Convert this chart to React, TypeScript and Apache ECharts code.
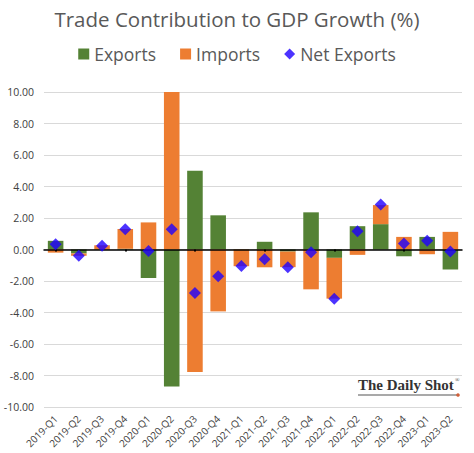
import React, { useEffect, useRef } from "react";
import * as echarts from "echarts";

const categories = [
  "2019-Q1", "2019-Q2", "2019-Q3", "2019-Q4",
  "2020-Q1", "2020-Q2", "2020-Q3", "2020-Q4",
  "2021-Q1", "2021-Q2", "2021-Q3", "2021-Q4",
  "2022-Q1", "2022-Q2", "2022-Q3", "2022-Q4",
  "2023-Q1", "2023-Q2",
];
const exportsVals = [0.55, -0.25, -0.03, 0.05, -1.81, -8.7, 5.0, 2.17, 0.02, 0.49, -0.13, 2.36, -0.53, 1.48, 1.61, -0.43, 0.8, -1.27];
const importsVals = [-0.2, -0.15, 0.27, 1.25, 1.72, 10.0, -7.77, -3.93, -1.06, -1.13, -0.99, -2.53, -2.59, -0.34, 1.21, 0.8, -0.3, 1.12];
const netExportsVals = [0.34, -0.4, 0.24, 1.29, -0.09, 1.29, -2.76, -1.7, -1.04, -0.62, -1.12, -0.17, -3.12, 1.16, 2.86, 0.38, 0.56, -0.13];
const yTicks = { min: -10, max: 10, interval: 2 };

const FONT = "'Open Sans', 'Noto Sans', sans-serif";

export default function App() {
  const ref = useRef<HTMLDivElement>(null);
  useEffect(() => {
    document.body.style.margin = "0";
    const chart = echarts.init(ref.current!, null, { renderer: "svg" });
    chart.setOption({
      animation: false,
      backgroundColor: "#ffffff",
      title: {
        text: "Trade Contribution to GDP Growth (%)",
        left: "center",
        top: 3,
        textStyle: { fontFamily: FONT, fontSize: 20.5, fontWeight: "normal", color: "#595959" },
      },
      legend: {
        top: 40,
        left: "center",
        itemWidth: 11,
        itemHeight: 11,
        itemGap: 24,
        textStyle: { fontFamily: FONT, fontSize: 17.5, color: "#595959" },
        data: [
          { name: "Exports", icon: "rect" },
          { name: "Imports", icon: "rect" },
          { name: "Net Exports", icon: "diamond" },
        ],
      },
      grid: { left: 44, right: 12, top: 92, bottom: 46 },
      xAxis: [
        {
          type: "category",
          data: categories,
          axisLine: { show: false, onZero: false },
          axisTick: { show: false },
          axisLabel: {
            rotate: 45,
            fontFamily: FONT,
            fontSize: 10,
            color: "#404040",
            margin: 10,
            interval: 0,
          },
        },
        {
          type: "category",
          data: categories,
          position: "bottom",
          axisLine: { show: true, onZero: true, lineStyle: { color: "#000000", width: 1.5 } },
          axisTick: { show: true, alignWithLabel: true, length: 2, lineStyle: { color: "#000", width: 2 } },
          axisLabel: { show: false },
          z: 5,
        },
      ],
      yAxis: {
        type: "value",
        min: yTicks.min,
        max: yTicks.max,
        interval: yTicks.interval,
        axisLine: { show: false },
        axisTick: { show: false },
        splitLine: { lineStyle: { color: "#D9D9D9", width: 1 } },
        axisLabel: {
          formatter: (v: number) => v.toFixed(2),
          fontFamily: FONT,
          fontSize: 10.5,
          color: "#404040",
          margin: 10,
        },
      },
      series: [
        {
          name: "Exports",
          type: "bar",
          stack: "trade",
          data: exportsVals,
          barCategoryGap: "33%",
          itemStyle: { color: "#548235" },
        },
        {
          name: "Imports",
          type: "bar",
          stack: "trade",
          data: importsVals,
          itemStyle: { color: "#ED7D31" },
        },
        {
          name: "Net Exports",
          type: "scatter",
          data: netExportsVals,
          symbol: "diamond",
          symbolSize: 12,
          itemStyle: { color: "#1F00FF" },
          z: 10,
        },
      ],
      graphic: [
        {
          type: "text",
          left: 358,
          top: 377,
          style: {
            text: "The Daily Shot",
            fontFamily: "'Liberation Serif', 'DejaVu Serif', serif",
            fontSize: 15,
            fontWeight: "bold",
            fill: "#333333",
          },
          z: 20,
        },
        {
          type: "text",
          left: 455,
          top: 377,
          style: {
            text: "®",
            fontFamily: "'Liberation Serif', serif",
            fontSize: 6,
            fill: "#333333",
          },
          z: 20,
        },
        {
          type: "line",
          shape: { x1: 358, y1: 395, x2: 457, y2: 395 },
          style: { stroke: "#555555", lineWidth: 1.2 },
          z: 20,
        },
        {
          type: "circle",
          shape: { cx: 458, cy: 395, r: 1.8 },
          style: { fill: "#D0603A" },
          z: 20,
        },
      ],
    });
    return () => chart.dispose();
  }, []);
  return <div ref={ref} style={{ width: 474, height: 453 }} />;
}
